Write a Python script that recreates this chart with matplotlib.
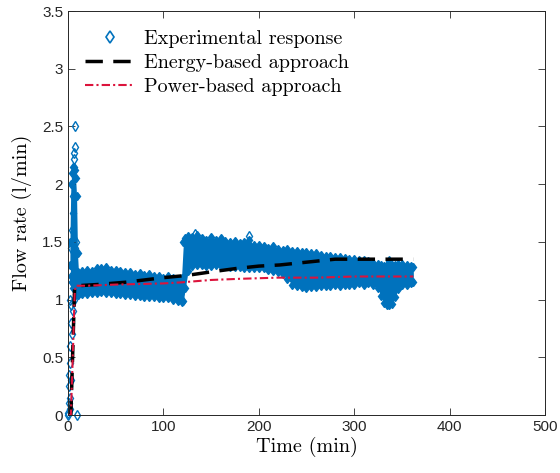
import matplotlib
matplotlib.use("Agg")
import matplotlib.pyplot as plt
from matplotlib.lines import Line2D

t_band = [2, 3, 4, 5, 6, 7, 8, 9, 10, 11, 15, 20, 25, 30, 35, 40, 45, 50, 55, 60, 65, 70,
          75, 80, 85, 90, 95, 100, 105, 110, 115, 119, 121, 123, 126, 130, 135, 140,
          145, 150, 155, 160, 165, 170, 175, 180, 185, 190, 195, 200, 205, 210, 215,
          220, 225, 230, 235, 240, 245, 250, 255, 260, 265, 270, 275, 280, 285, 290,
          295, 300, 305, 310, 315, 320, 325, 328, 331, 334, 337, 340, 343, 346, 350,
          355, 360, 362]
band_upper = [1.50, 2.00, 2.10, 2.15, 2.15, 2.12, 2.05, 1.90, 1.40, 1.24, 1.25, 1.26,
              1.25, 1.27, 1.27, 1.28, 1.26, 1.26, 1.25, 1.24, 1.24, 1.22, 1.23, 1.21,
              1.22, 1.20, 1.20, 1.19, 1.20, 1.19, 1.18, 1.19, 1.50, 1.53, 1.55, 1.54,
              1.56, 1.53, 1.52, 1.54, 1.52, 1.53, 1.51, 1.50, 1.51, 1.49, 1.50, 1.52,
              1.47, 1.47, 1.46, 1.45, 1.46, 1.44, 1.43, 1.44, 1.42, 1.42, 1.41, 1.41,
              1.40, 1.40, 1.39, 1.38, 1.38, 1.37, 1.37, 1.36, 1.35, 1.35, 1.34, 1.34,
              1.33, 1.32, 1.31, 1.30, 1.29, 1.30, 1.32, 1.30, 1.30, 1.31, 1.31, 1.30,
              1.29, 1.28]
band_lower = [1.30, 1.20, 1.15, 1.10, 1.10, 1.08, 1.05, 1.05, 1.04, 1.04, 1.05, 1.05,
              1.06, 1.06, 1.07, 1.06, 1.06, 1.05, 1.05, 1.04, 1.04, 1.03, 1.03, 1.02,
              1.02, 1.02, 1.01, 1.01, 1.01, 1.00, 0.99, 0.98, 0.99, 1.10, 1.25, 1.29,
              1.30, 1.30, 1.29, 1.29, 1.30, 1.29, 1.29, 1.28, 1.28, 1.28, 1.27, 1.27,
              1.27, 1.27, 1.27, 1.26, 1.25, 1.24, 1.22, 1.18, 1.13, 1.12, 1.11, 1.10,
              1.11, 1.11, 1.12, 1.12, 1.12, 1.13, 1.12, 1.13, 1.13, 1.13, 1.14, 1.13,
              1.14, 1.13, 1.10, 1.03, 0.97, 0.95, 0.95, 0.96, 1.02, 1.09, 1.13, 1.13,
              1.14, 1.15]

# scattered start-up readings and outliers
t_pts = [0, 0.5, 1, 1, 1.5, 2, 2, 2, 2.5, 2.5, 3, 3, 3.5, 3.5, 4, 4, 4.5, 4, 5, 5,
         5.5, 6, 6, 6.5, 7, 7.3, 7.5, 8, 9.5, 133, 190, 337]
v_pts = [0.0, 0.02, 0.1, 0.35, 0.25, 0.05, 0.15, 0.45, 0.6, 1.0, 0.3, 0.8, 0.95, 1.45,
         0.7, 1.15, 1.3, 1.6, 0.9, 1.75, 1.9, 1.0, 2.22, 2.27, 2.32, 2.5, 1.45, 1.5,
         0.0, 1.57, 1.55, 1.33]

# model responses
t_energy = [0, 3, 5, 7, 10, 30, 60, 100, 125, 150, 177, 200, 222, 257, 280, 300, 330, 362]
v_energy = [0, 0, 0.55, 1.12, 1.12, 1.13, 1.15, 1.19, 1.21, 1.24, 1.27, 1.29, 1.30,
            1.33, 1.35, 1.35, 1.35, 1.35]
t_power = [0, 3, 5, 7, 8, 20, 50, 100, 120, 150, 180, 220, 260, 300, 362]
v_power = [0, 0, 0.5, 1.05, 1.12, 1.12, 1.13, 1.14, 1.15, 1.17, 1.18, 1.19, 1.19, 1.20, 1.20]

blue = "#0072BD"
red = "#DC143C"
cm_font = "cmr10"

fig = plt.figure(figsize=(5.6, 4.73), dpi=100)
ax = fig.add_axes([0.1214, 0.1226, 0.8518, 0.8541])

ax.fill_between(t_band, band_lower, band_upper, color=blue, lw=0)
ax.plot(t_band, band_upper, ls="none", marker="d", ms=4.5, mfc=blue, mec=blue, mew=1)
ax.plot(t_band, band_lower, ls="none", marker="d", ms=4.5, mfc=blue, mec=blue, mew=1)
ax.plot(t_pts, v_pts, ls="none", marker="d", ms=5.5, mfc="none", mec=blue, mew=1,
        clip_on=False)

ax.plot(t_energy, v_energy, color="black", lw=2.5, dashes=(5, 3))
ax.plot(t_power, v_power, color=red, lw=1.5, dashes=(4, 1.5, 1, 1.5))

ax.set_xlim(0, 500)
ax.set_ylim(0, 3.5)
ax.set_xticks([0, 100, 200, 300, 400, 500])
ax.set_yticks([0, 0.5, 1, 1.5, 2, 2.5, 3, 3.5])
ax.set_yticklabels(["0", "0.5", "1", "1.5", "2", "2.5", "3", "3.5"])
ax.tick_params(direction="in", length=5, width=0.6, top=True, right=True,
               labelsize=11, colors="#262626")
for lab in ax.get_xticklabels() + ax.get_yticklabels():
    lab.set_fontfamily("Liberation Sans")
for sp in ax.spines.values():
    sp.set_color("#262626")
    sp.set_linewidth(0.7)

ax.set_xlabel("Time (min)", fontfamily=cm_font, fontsize=14.5, labelpad=2)
ax.set_ylabel("Flow rate (l/min)", fontfamily=cm_font, fontsize=14.5, labelpad=7)

handles = [
    Line2D([], [], ls="none", marker="d", ms=6, mfc="none", mec=blue, mew=1.2),
    Line2D([], [], color="black", lw=2.5, dashes=(5, 3)),
    Line2D([], [], color=red, lw=1.5, dashes=(4, 1.5, 1, 1.5)),
]
labels = ["Experimental response", "Energy-based approach", "Power-based approach"]
ax.legend(handles, labels, loc="upper left", bbox_to_anchor=(0.019, 0.973),
          frameon=False, prop={"family": cm_font, "size": 14.5}, handlelength=2.5,
          handletextpad=0.4, labelspacing=0.3, borderaxespad=0)

fig.savefig("out.png", dpi=100)
